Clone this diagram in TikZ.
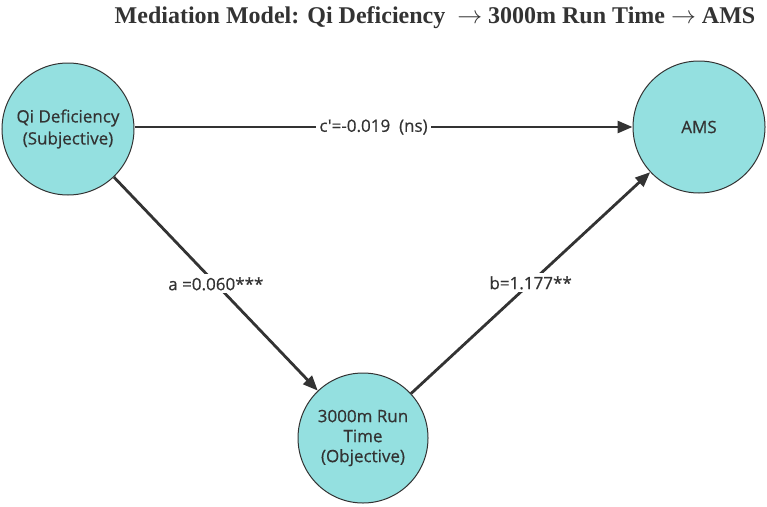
\documentclass[tikz,border=0pt]{standalone}
\usepackage{fontspec}
\setmainfont{Open Sans}
\newfontfamily\nodefont[FakeBold=0.5]{Open Sans}
\newfontfamily\titlefont{Liberation Serif}
\usetikzlibrary{arrows.meta}
\definecolor{nodefill}{RGB}{148,224,224}
\definecolor{ink}{RGB}{51,51,51}
\tikzset{
  varnode/.style={circle, draw=ink, line width=1pt, fill=nodefill, minimum size=132pt, inner sep=0pt,
    text=ink, align=center, font=\nodefont\fontsize{17pt}{22pt}\selectfont},
  pathline/.style={draw=ink, line width=2.8pt, -{Triangle[length=15pt,width=12pt]}},
  coeflabel/.style={fill=white, text=ink, inner sep=3pt, font=\nodefont\fontsize{17pt}{20pt}\selectfont}
}
\begin{document}
\begin{tikzpicture}[x=1pt,y=-1pt]
\useasboundingbox (0,0) rectangle (767,506);
\node[text=ink, font=\titlefont\bfseries\fontsize{24pt}{28pt}\selectfont] (title) at (435,18) {Mediation Model: Qi Deficiency\ \ $\rightarrow$ 3000m Run Time $\rightarrow$ AMS};
\node[varnode] (qi) at (68,129) {Qi Deficiency\\(Subjective)};
\node[varnode] (ams) at (699,127) {AMS};
\node[varnode, minimum size=130pt, font=\nodefont\fontsize{17pt}{20pt}\selectfont] (run) at (363,438) {3000m Run\\Time\\(Objective)};
\draw[pathline] (qi.east |- ams.west) -- node[coeflabel, pos=0.48] (cl) {c\char"0027=-0.019\ \ (ns)} (ams.west);
\draw[pathline] (qi) -- node[coeflabel] (al) {a =0.060***} (run);
\draw[pathline] (run) -- node[coeflabel] (bl) {b=1.177**} (ams);
\end{tikzpicture}
\end{document}
